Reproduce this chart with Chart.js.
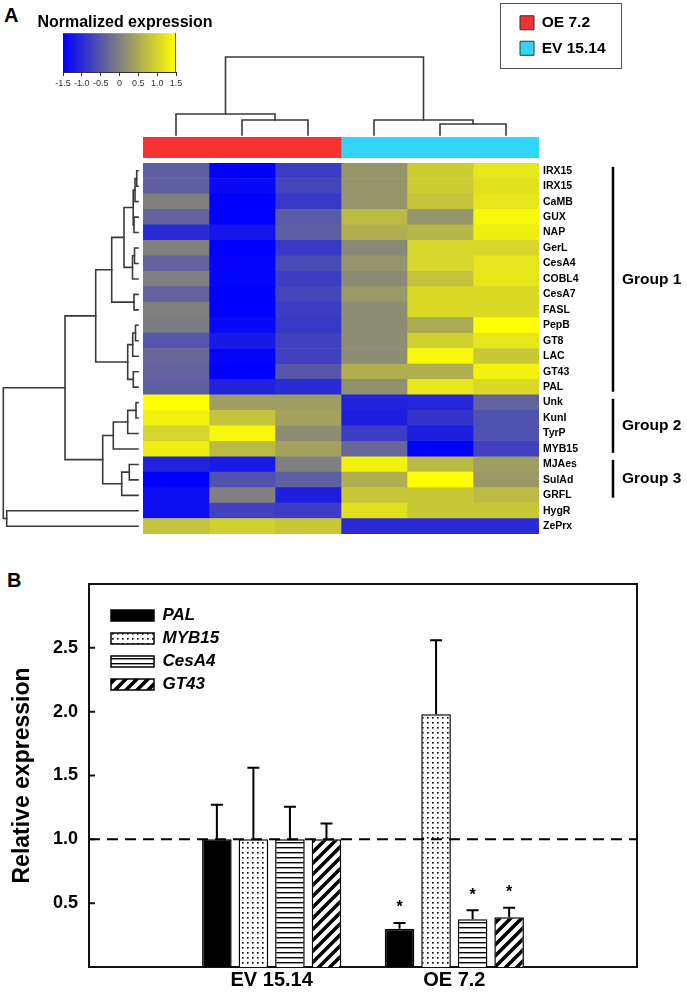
<!DOCTYPE html>
<html><head><meta charset="utf-8">
<script src="https://cdn.jsdelivr.net/npm/chart.js@4.4.1/dist/chart.umd.min.js"></script>
<style>
html,body{margin:0;padding:0;background:#fff;}
#wrap{position:relative;width:687px;height:1000px;overflow:hidden;font-family:'Liberation Sans',Arial,sans-serif;}
canvas{position:absolute;}
.panel{position:absolute;font-weight:bold;font-size:20px;line-height:20px;color:#000;}
#legBox{position:absolute;left:500px;top:3px;width:122px;height:66px;box-sizing:border-box;border:1.5px solid #555;}
</style></head>
<body><div id="wrap">
<div class="panel" style="left:4px;top:5px">A</div>
<div class="panel" style="left:7px;top:570px">B</div>
<canvas id="cbar" width="250" height="100" style="left:0;top:0"></canvas>
<canvas id="dendTop" width="687" height="90" style="left:0;top:50px"></canvas>
<canvas id="strip" width="687" height="21" style="left:0;top:137px"></canvas>
<div id="legBox"></div>
<canvas id="legendA" width="240" height="64" style="left:510px;top:5px"></canvas>
<canvas id="dendLeft" width="143" height="380" style="left:0;top:160px"></canvas>
<canvas id="heat" width="687" height="400" style="left:0;top:148px"></canvas>
<canvas id="bars" width="687" height="440" style="left:0;top:560px"></canvas>
<canvas id="legendB" width="280" height="110" style="left:105px;top:601px"></canvas>
</div>
<script>
// ---------------- Panel A data ----------------
const geneLabels = ['IRX15','IRX15','CaMB','GUX','NAP','GerL','CesA4','COBL4','CesA7','FASL','PepB','GT8','LAC','GT43','PAL','Unk','KunI','TyrP','MYB15','MJAes','SulAd','GRFL','HygR','ZePrx'];
const sampleGroups = ['OE 7.2','OE 7.2','OE 7.2','EV 15.14','EV 15.14','EV 15.14'];
const groupNames = ['OE 7.2','EV 15.14'];
const groupColors = ['#f43232','#33d4fc'];
// normalized expression, one array per sample column (rows in geneLabels order)
const oe1 = [-0.4,-0.4,0.0,-0.35,-1.0,0.0,-0.35,0.0,-0.35,0.0,-0.05,-0.5,-0.3,-0.35,-0.4,1.5,1.35,1.0,1.3,-1.1,-1.5,-1.35,-1.35,0.8];
const oe2 = [-1.5,-1.4,-1.5,-1.5,-1.25,-1.5,-1.45,-1.45,-1.5,-1.5,-1.4,-1.2,-1.45,-1.5,-1.1,0.35,0.8,1.4,0.7,-1.2,-0.55,0.0,-0.75,0.95];
const oe3 = [-0.8,-0.7,-0.85,-0.45,-0.4,-0.85,-0.65,-0.8,-0.7,-0.8,-0.85,-0.75,-0.75,-0.5,-1.0,0.35,0.4,0.15,0.4,0.0,-0.4,-1.15,-0.8,0.85];
const ev1 = [0.25,0.25,0.25,0.7,0.55,0.1,0.25,0.12,0.3,0.15,0.15,0.15,0.15,0.55,0.2,-1.1,-1.15,-0.8,-0.3,1.35,0.55,0.85,1.15,-1.0];
const ev2 = [0.9,0.9,0.8,0.25,0.65,1.0,1.0,0.8,1.05,1.05,0.5,0.95,1.4,0.55,1.2,-1.05,-0.9,-1.15,-1.5,0.7,1.5,0.85,0.85,-1.0];
const ev3 = [1.2,1.15,1.2,1.4,1.3,1.0,1.2,1.2,1.05,1.05,1.5,1.2,0.85,1.35,1.05,-0.35,-0.55,-0.55,-0.75,0.35,0.3,0.7,0.85,-1.0];
const sampleColumns = [oe1, oe2, oe3, ev1, ev2, ev3];
// colour scale
const scaleStops = [-1.5, 0, 1.5];
const scaleColors = [[0,0,255],[128,128,128],[255,255,0]];
const colorbarTicks = [-1.5,-1.0,-0.5,0,0.5,1.0,1.5];
// row dendrogram linkage: [childA, childB, height]; ids >= 24 refer to earlier merges
const rowLinkage = [
  [0,1,1.3],[24,2,3],[3,4,4],[25,26,4.8],[5,6,3.5],[28,7,5.5],[27,29,14],[8,9,4],
  [30,31,26.3],[10,11,2.5],[33,12,5.3],[13,14,4.7],[34,35,10.3],[32,36,42.3],
  [15,16,2],[38,17,10.3],[39,18,24.7],[19,20,8.7],[41,21,16.3],[40,42,35.3],
  [37,43,73],[22,23,131.3],[44,45,134.7]
];
// column dendrogram linkage (ids >= 6 refer to merges)
const colLinkage = [[1,2,15],[0,6,21],[4,5,11],[3,8,15],[7,9,78]];
const groupLabelsA = ['Group 1','Group 2','Group 3'];
const groupSpans = [[-0.25,14.3],[14.75,18.25],[18.7,21.15]];

// ---------------- Panel B data ----------------
const groupLabelsB = ['EV 15.14','OE 7.2'];
const barGenes = ['PAL','MYB15','CesA4','GT43'];
const palMean = [1.0, 0.30];   const palErr = [0.27, 0.045];
const myb15Mean = [1.0, 1.98]; const myb15Err = [0.56, 0.58];
const cesa4Mean = [1.0, 0.375]; const cesa4Err = [0.255, 0.07];
const gt43Mean = [1.0, 0.39];  const gt43Err = [0.125, 0.075];
const palSig = [false, true]; const myb15Sig = [false, false]; const cesa4Sig = [false, true]; const gt43Sig = [false, true];
const yTickValues = [0.5, 1.0, 1.5, 2.0, 2.5];
const refLevel = 1.0;

// ---------------- helpers ----------------
const FONT = "'Liberation Sans', Arial, sans-serif";
Chart.defaults.font.family = FONT;
Chart.defaults.color = '#000';
Chart.defaults.animation = false;
Chart.defaults.responsive = false;
Chart.defaults.events = [];
Chart.defaults.plugins.tooltip.enabled = false;

const rgb = c => `rgb(${c[0]},${c[1]},${c[2]})`;
function expColor(v) {
  const s = scaleStops, c = scaleColors;
  if (v <= s[0]) return rgb(c[0]);
  if (v >= s[s.length-1]) return rgb(c[c.length-1]);
  for (let i = 0; i < s.length-1; i++) {
    if (v <= s[i+1]) {
      const t = (v - s[i]) / (s[i+1] - s[i]);
      return rgb(c[i].map((x,k) => Math.round(x + (c[i+1][k]-x)*t)));
    }
  }
}
function dendroSegments(linkage, nLeaves) {
  const node = [];
  for (let i = 0; i < nLeaves; i++) node[i] = {p: i, h: 0};
  const segs = [];
  linkage.forEach(([a,b,h], k) => {
    const A = node[a], B = node[b];
    segs.push([{p:A.p,h:A.h},{p:A.p,h:h},{p:B.p,h:h},{p:B.p,h:B.h}]);
    node[nLeaves+k] = {p: (A.p+B.p)/2, h: h};
  });
  return segs;
}
const lineStyle = {showLine:true, borderColor:'#3a3a3a', borderWidth:1.6, pointRadius:0, tension:0, fill:false, clip:false, borderCapStyle:'square'};
const hiddenSide = w => ({display: true, grid: {display: false, drawTicks: false}, border: {display: false},
  ticks: {display: false}, afterFit: s => { s.width = w; }});

// ---------------- colour bar ----------------
const gradientPlugin = {
  id: 'gradientBar',
  beforeDraw(chart) {
    const {ctx, chartArea: a, scales: {x}} = chart;
    const x0 = x.getPixelForValue(scaleStops[0]), x1 = x.getPixelForValue(scaleStops[scaleStops.length-1]);
    const g = ctx.createLinearGradient(x0, 0, x1, 0);
    scaleStops.forEach((s, i) => g.addColorStop((s - scaleStops[0]) / (scaleStops[scaleStops.length-1] - scaleStops[0]), rgb(scaleColors[i])));
    ctx.save();
    ctx.fillStyle = g;
    ctx.fillRect(a.left, a.top, a.width, a.height);
    ctx.strokeStyle = '#555'; ctx.lineWidth = 1;
    ctx.beginPath(); ctx.moveTo(a.right - 0.5, a.top); ctx.lineTo(a.right - 0.5, a.bottom); ctx.stroke();
    ctx.restore();
  }
};
new Chart(document.getElementById('cbar'), {
  type: 'scatter',
  data: {datasets: []},
  options: {
    layout: {padding: 0},
    plugins: {legend: {display: false},
      title: {display: true, text: 'Normalized expression', color: '#000', font: {size: 16, weight: 'bold'}, padding: {top: 13, bottom: 1}}},
    scales: {
      x: {type: 'linear', min: scaleStops[0], max: scaleStops[scaleStops.length-1],
        afterBuildTicks: s => { s.ticks = colorbarTicks.map(v => ({value: v})); },
        ticks: {font: {size: 9}, color: '#333', padding: 2, autoSkip: false, maxRotation: 0,
          callback: v => (v === 0 ? '0' : Number(v).toFixed(1))},
        grid: {display: true, drawOnChartArea: false, drawTicks: true, tickLength: 4, color: '#333'},
        border: {display: true, color: '#333'},
        afterFit: s => { s.height = 28; }},
      y: Object.assign({type: 'linear', min: 0, max: 1, position: 'left'}, hiddenSide(63)),
      yR: Object.assign({type: 'linear', min: 0, max: 1, position: 'right'}, hiddenSide(74))
    }
  },
  plugins: [gradientPlugin]
});

// ---------------- column dendrogram ----------------
new Chart(document.getElementById('dendTop'), {
  type: 'scatter',
  data: {datasets: dendroSegments(colLinkage, sampleColumns.length).map(s => Object.assign({data: s.map(q => ({x: q.p, y: q.h}))}, lineStyle))},
  options: {
    layout: {padding: {left: 143, right: 148, top: 7, bottom: 5}},
    plugins: {legend: {display: false}},
    scales: {x: {type: 'linear', min: -0.5, max: sampleColumns.length - 0.5, display: false},
             y: {type: 'linear', min: 0, max: 78, display: false}}
  }
});

// ---------------- group strip ----------------
function groupRange(name) {
  const idx = sampleGroups.map((g, i) => g === name ? i : -1).filter(i => i >= 0);
  return [Math.min(...idx) - 0.5, Math.max(...idx) + 0.5];
}
new Chart(document.getElementById('strip'), {
  type: 'bar',
  data: {labels: ['Genotype'], datasets: groupNames.map((g, i) => ({
    label: g, data: [groupRange(g)], backgroundColor: groupColors[i], borderWidth: 0,
    barPercentage: 1, categoryPercentage: 1, grouped: false}))},
  options: {
    indexAxis: 'y',
    layout: {padding: {left: 143, right: 148, top: 0, bottom: 0}},
    plugins: {legend: {display: false}},
    scales: {x: {type: 'linear', min: -0.5, max: sampleColumns.length - 0.5, display: false},
             y: {display: false}}
  }
});

// ---------------- legend A ----------------
new Chart(document.getElementById('legendA'), {
  type: 'bar',
  data: {labels: [], datasets: groupNames.map((g, i) => ({label: g, data: [], backgroundColor: groupColors[i], borderColor: '#333', borderWidth: 1}))},
  options: {
    layout: {padding: 0},
    plugins: {legend: {position: 'left', align: 'start',
      labels: {boxWidth: 14, boxHeight: 14, padding: 10, color: '#000', font: {size: 15.5, weight: 'bold'}}}},
    scales: {x: {display: false}, y: {display: false}}
  }
});

// ---------------- row dendrogram ----------------
new Chart(document.getElementById('dendLeft'), {
  type: 'scatter',
  data: {datasets: dendroSegments(rowLinkage, geneLabels.length).map(s => Object.assign({data: s.map(q => ({x: q.h, y: q.p}))}, lineStyle))},
  options: {
    layout: {padding: {left: 3, right: 5, top: 3, bottom: 6}},
    plugins: {legend: {display: false}},
    scales: {x: {type: 'linear', min: 0, max: 135, reverse: true, display: false},
             y: {type: 'linear', min: -0.5, max: geneLabels.length - 0.5, reverse: true, display: false}}
  }
});

// ---------------- heatmap ----------------
const bracketPlugin = {
  id: 'groupBrackets',
  afterDraw(chart) {
    const {ctx, chartArea: a, scales: {y}} = chart;
    const xLine = a.right + 74;
    ctx.save();
    ctx.strokeStyle = '#000'; ctx.lineWidth = 2.5; ctx.fillStyle = '#000';
    ctx.font = 'bold 15.5px ' + FONT; ctx.textAlign = 'left'; ctx.textBaseline = 'middle';
    groupSpans.forEach((sp, i) => {
      const t = y.getPixelForValue(sp[0]), b = y.getPixelForValue(sp[1]);
      ctx.beginPath(); ctx.moveTo(xLine, t); ctx.lineTo(xLine, b); ctx.stroke();
      ctx.fillText(groupLabelsA[i], xLine + 9, (t + b) / 2);
    });
    ctx.restore();
  }
};
new Chart(document.getElementById('heat'), {
  type: 'bar',
  data: {labels: geneLabels, datasets: sampleColumns.map((col, j) => ({
    label: sampleGroups[j] + ' #' + (j % 3 + 1),
    data: geneLabels.map(() => [j - 0.5, j + 0.5]),
    backgroundColor: col.map(v => expColor(v)),
    borderWidth: 0, barPercentage: 1, categoryPercentage: 1, grouped: false}))},
  options: {
    indexAxis: 'y',
    layout: {padding: {left: 143, right: 0, top: 15, bottom: 14}},
    plugins: {legend: {display: false}},
    scales: {
      x: {type: 'linear', min: -0.5, max: sampleColumns.length - 0.5, display: false},
      y: {type: 'category', position: 'right', offset: true,
        grid: {display: false, drawTicks: false}, border: {display: false},
        ticks: {font: {size: 10.5, weight: 'bold'}, color: '#000', padding: 4, autoSkip: false},
        afterFit: s => { s.width = 148; }}
    }
  },
  plugins: [bracketPlugin]
});

// ---------------- Panel B ----------------
function makePattern(kind) {
  const c = document.createElement('canvas');
  const g = c.getContext('2d');
  if (kind === 'dots') {
    c.width = 5; c.height = 5;
    g.fillStyle = '#fff'; g.fillRect(0, 0, 5, 5);
    g.fillStyle = '#000'; g.fillRect(2, 2, 1.6, 1.6);
  } else if (kind === 'hlines') {
    c.width = 8; c.height = 5;
    g.fillStyle = '#fff'; g.fillRect(0, 0, 8, 5);
    g.fillStyle = '#000'; g.fillRect(0, 2, 8, 1.4);
  } else {
    c.width = 11; c.height = 11;
    g.fillStyle = '#fff'; g.fillRect(0, 0, 11, 11);
    g.strokeStyle = '#000'; g.lineWidth = 3.6; g.lineCap = 'square';
    g.beginPath();
    g.moveTo(-3, 14); g.lineTo(14, -3);
    g.moveTo(-3, 3); g.lineTo(3, -3);
    g.moveTo(8, 14); g.lineTo(14, 8);
    g.stroke();
  }
  return g.createPattern(c, 'repeat');
}
const barFills = ['#000', makePattern('dots'), makePattern('hlines'), makePattern('diag')];
const barMeans = [palMean, myb15Mean, cesa4Mean, gt43Mean];
const barErrs = [palErr, myb15Err, cesa4Err, gt43Err];
const barSigs = [palSig, myb15Sig, cesa4Sig, gt43Sig];
const xLabelsB = ['', ...groupLabelsB, ''];
const pad = arr => [null, ...arr, null];

const errorBarPlugin = {
  id: 'errorBars',
  afterDatasetsDraw(chart) {
    const {ctx, scales: {y}} = chart;
    ctx.save();
    ctx.strokeStyle = '#000'; ctx.fillStyle = '#000'; ctx.lineWidth = 2; ctx.setLineDash([]);
    ctx.font = 'bold 16px ' + FONT; ctx.textAlign = 'center'; ctx.textBaseline = 'middle';
    chart.data.datasets.forEach((ds, i) => {
      if (!ds.errors) return;
      const meta = chart.getDatasetMeta(i);
      meta.data.forEach((bar, j) => {
        const v = ds.data[j];
        if (v == null) return;
        const yb = y.getPixelForValue(v), yt = y.getPixelForValue(v + ds.errors[j]);
        ctx.beginPath();
        ctx.moveTo(bar.x, yb); ctx.lineTo(bar.x, yt);
        ctx.moveTo(bar.x - 6, yt); ctx.lineTo(bar.x + 6, yt);
        ctx.stroke();
        if (ds.sig[j]) ctx.fillText('*', bar.x, yt - 15);
      });
    });
    ctx.restore();
  }
};
const framePlugin = {
  id: 'frame',
  afterDraw(chart) {
    const {ctx, chartArea: a, scales: {y}} = chart;
    ctx.save();
    ctx.strokeStyle = '#111'; ctx.lineWidth = 2;
    ctx.beginPath();
    ctx.moveTo(a.left, a.top); ctx.lineTo(a.right, a.top); ctx.lineTo(a.right, a.bottom);
    y.ticks.forEach(t => { const py = y.getPixelForValue(t.value); ctx.moveTo(a.left, py); ctx.lineTo(a.left + 6, py); });
    ctx.stroke();
    ctx.restore();
  }
};
const barDatasets = barGenes.map((g, i) => ({
  type: 'bar', label: g,
  data: pad(barMeans[i]), errors: pad(barErrs[i]), sig: pad(barSigs[i]),
  backgroundColor: barFills[i], borderColor: '#000', borderWidth: 1.5,
  barPercentage: 0.81, categoryPercentage: 0.8, order: 1
}));
new Chart(document.getElementById('bars'), {
  type: 'bar',
  data: {labels: xLabelsB, datasets: [
    ...barDatasets,
    {type: 'line', label: 'reference', data: xLabelsB.map(() => refLevel), borderColor: '#000', borderWidth: 2,
     borderDash: [11, 7], pointRadius: 0, fill: false, order: 0}
  ]},
  options: {
    layout: {padding: {left: 0, right: 50, top: 24, bottom: 0}},
    plugins: {legend: {display: false}},
    scales: {
      x: {type: 'category', offset: false, grid: {display: false, drawTicks: false},
        border: {display: true, color: '#111', width: 2},
        ticks: {font: {size: 20, weight: 'bold'}, color: '#000', padding: 1, autoSkip: false, maxRotation: 0},
        afterFit: s => { s.height = 33; }},
      y: {type: 'linear', min: 0, max: 3,
        afterBuildTicks: s => { s.ticks = yTickValues.map(v => ({value: v})); },
        grid: {display: false, drawTicks: false},
        border: {display: true, color: '#111', width: 2},
        ticks: {font: {size: 18, weight: 'bold'}, color: '#000', padding: 11, callback: v => Number(v).toFixed(1)},
        title: {display: true, text: 'Relative expression', color: '#000', font: {size: 23, weight: 'bold'}, padding: {top: 9, bottom: 0}},
        afterFit: s => { s.width = 89; }}
    }
  },
  plugins: [errorBarPlugin, framePlugin]
});

// ---------------- legend B ----------------
new Chart(document.getElementById('legendB'), {
  type: 'bar',
  data: {labels: [], datasets: barGenes.map((g, i) => ({label: g, data: [], backgroundColor: barFills[i], borderColor: '#000', borderWidth: 1.5}))},
  options: {
    layout: {padding: 0},
    plugins: {legend: {position: 'left', align: 'start',
      labels: {boxWidth: 43, boxHeight: 11, padding: 6, color: '#000', font: {size: 17, weight: 'bold', style: 'italic'}}}},
    scales: {x: {display: false}, y: {display: false}}
  }
});
</script>
</body></html>
